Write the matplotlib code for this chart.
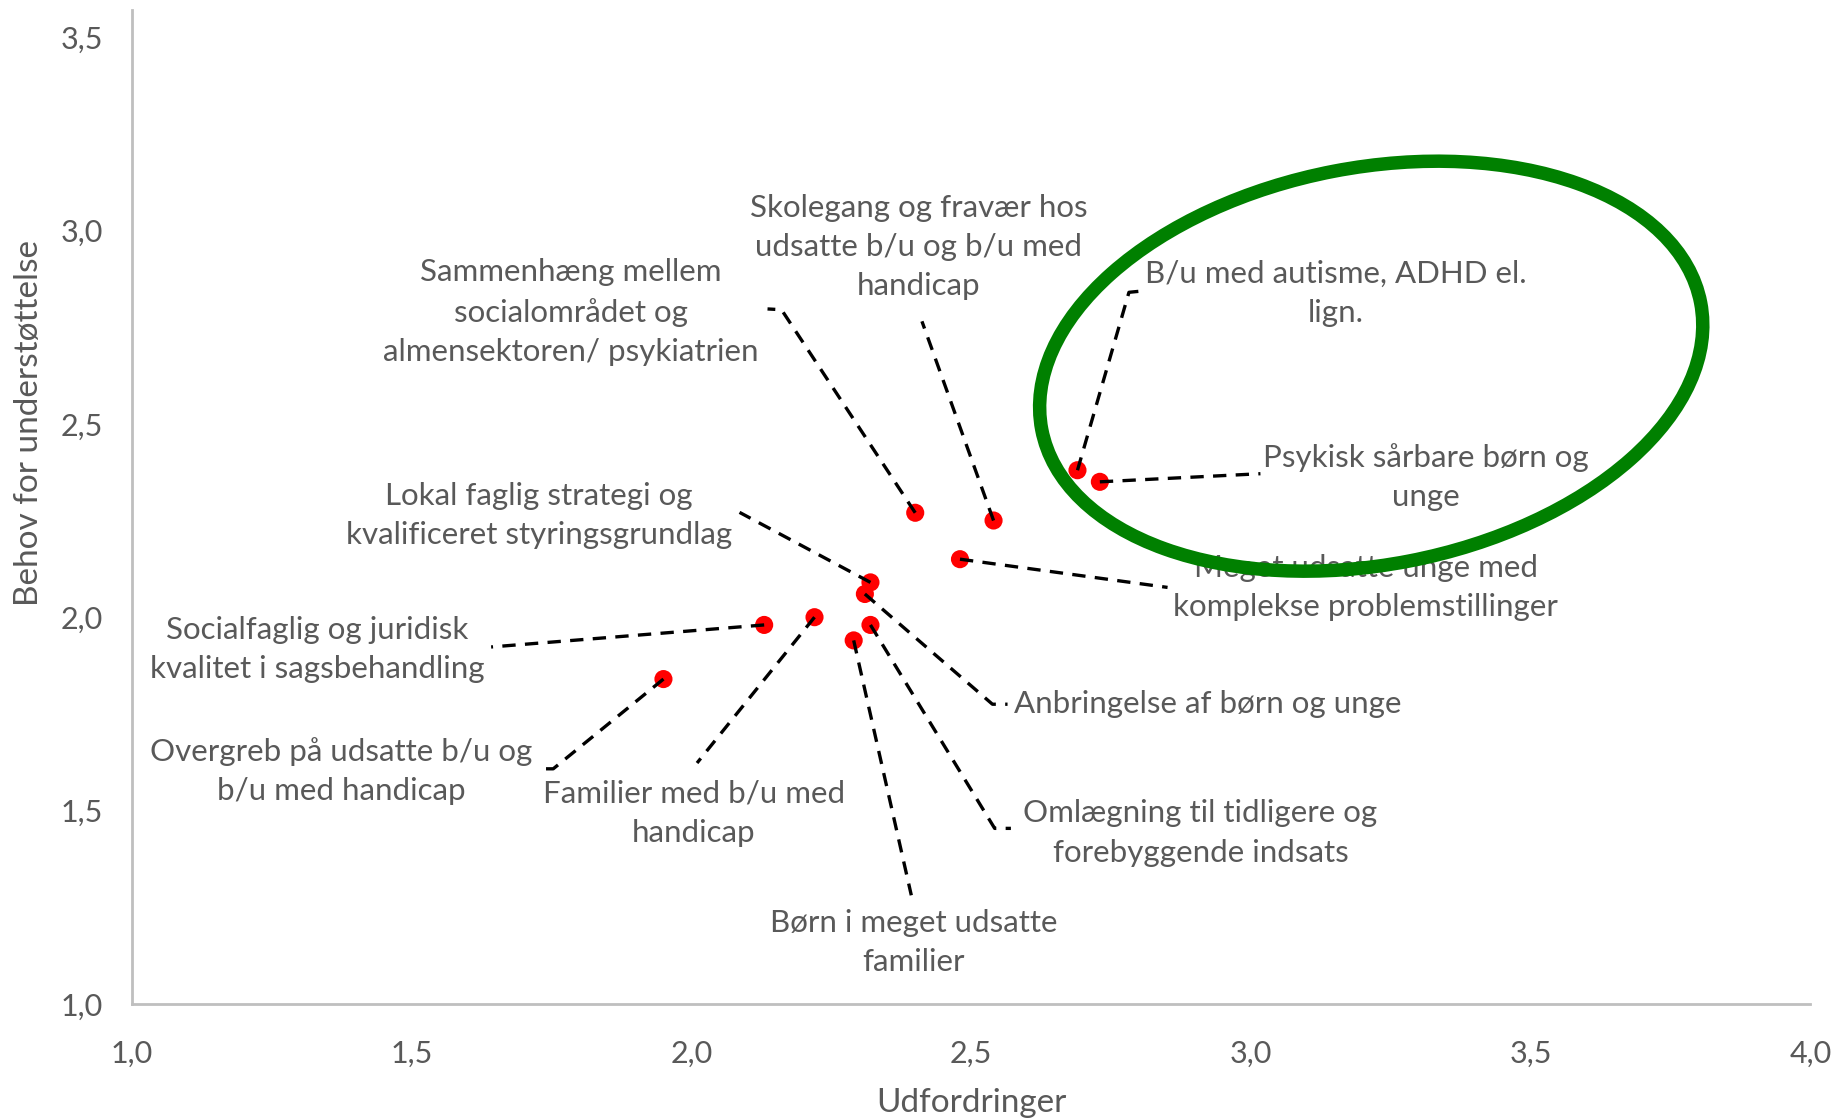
"""
Udfordringer vs. behov for understøttelse — scatter with leader-line labels.

Produces
--------
  out.png  (1835 x 1120 px)
"""
from __future__ import annotations

import matplotlib
matplotlib.use("Agg")
import matplotlib.pyplot as plt
from matplotlib.patches import Ellipse
from matplotlib.transforms import ScaledTranslation

# ─── Data ─────────────────────────────────────────────────────────────────────

themes = [
    "Overgreb på udsatte b/u og\nb/u med handicap",
    "Socialfaglig og juridisk\nkvalitet i sagsbehandling",
    "Familier med b/u med\nhandicap",
    "Børn i meget udsatte\nfamilier",
    "Omlægning til tidligere og\nforebyggende indsats",
    "Anbringelse af børn og unge",
    "Lokal faglig strategi og\nkvalificeret styringsgrundlag",
    "Sammenhæng mellem\nsocialområdet og\nalmensektoren/ psykiatrien",
    "Skolegang og fravær hos\nudsatte b/u og b/u med\nhandicap",
    "Meget udsatte unge med\nkomplekse problemstillinger",
    "B/u med autisme, ADHD el.\nlign.",
    "Psykisk sårbare børn og\nunge",
]
udfordringer = [1.95, 2.13, 2.22, 2.29, 2.32, 2.31, 2.32, 2.40, 2.54, 2.48, 2.69, 2.73]
behov        = [1.84, 1.98, 2.00, 1.94, 1.98, 2.06, 2.09, 2.27, 2.25, 2.15, 2.38, 2.35]

x_ticks = [1.0, 1.5, 2.0, 2.5, 3.0, 3.5, 4.0]
y_ticks = [1.0, 1.5, 2.0, 2.5, 3.0, 3.5]

# ─── Label layout (data coords): leader end, optional elbow end, text centre ──

leader_end = [
    (1.753, 1.608), (1.642, 1.923), (2.010, 1.623), (2.393, 1.281),
    (2.542, 1.454), (2.538, 1.775), (2.086, 2.271), (2.161, 2.795),
    (2.412, 2.765), (2.851, 2.077), (2.782, 2.840), (3.017, 2.371),
]
elbow_end = [
    (1.730, 1.608), None, None, None,
    (2.571, 1.454), (2.565, 1.775), None, (2.136, 2.797),
    None, None, (2.803, 2.843), None,
]
label_xy = [
    (1.374, 1.602), (1.331, 1.917), (2.004, 1.493), (2.397, 1.160),
    (2.910, 1.442), (2.923, 1.775), (1.728, 2.262), (1.785, 2.789),
    (2.406, 2.958), (3.205, 2.077), (3.151, 2.837), (3.312, 2.362),
]

TXT = "#595959"
AXIS = "#BFBFBF"
FONT = ["Lato", "DejaVu Sans"]

# ─── Figure ───────────────────────────────────────────────────────────────────

plt.rcParams["font.family"] = FONT
fig = plt.figure(figsize=(18.35, 11.2), dpi=100)
ax = fig.add_axes([0.0719, 0.1036, 0.9147, 0.8875])

ax.scatter(udfordringer, behov, s=170, color="#FF0000", edgecolors="none", zorder=3)

dash = (0, (4, 2.8))
for (px, py), end, elbow in zip(zip(udfordringer, behov), leader_end, elbow_end):
    xs, ys = [px, end[0]], [py, end[1]]
    if elbow is not None:
        xs.append(elbow[0])
        ys.append(elbow[1])
    ax.plot(xs, ys, color="black", lw=2.4, linestyle=dash, zorder=4)

for name, (tx, ty) in zip(themes, label_xy):
    ax.text(tx, ty, name, ha="center", va="center", fontsize=22.5,
            color=TXT, linespacing=1.48, zorder=5)

# green highlight ring, sized in inches around a data-space centre
ring = Ellipse((0, 0), 6.71, 3.97, angle=10.9, fill=False, edgecolor="#008000",
               lw=9.7, zorder=6,
               transform=fig.dpi_scale_trans + ScaledTranslation(3.215, 2.649, ax.transData))
ax.add_patch(ring)

ax.set_xlim(1.0, 4.0)
ax.set_ylim(1.0, 3.57)
ax.set_xticks(x_ticks)
ax.set_yticks(y_ticks)
ax.set_xticklabels([f"{v:.1f}".replace(".", ",") for v in x_ticks])
ax.set_yticklabels([f"{v:.1f}".replace(".", ",") for v in y_ticks])
ax.tick_params(length=0, labelsize=22, labelcolor=TXT)
ax.tick_params(axis="x", pad=26)
ax.tick_params(axis="y", pad=21)

for side in ("top", "right"):
    ax.spines[side].set_visible(False)
for side in ("left", "bottom"):
    ax.spines[side].set_color(AXIS)
    ax.spines[side].set_linewidth(2)

ax.set_xlabel("Udfordringer", fontsize=24, color=TXT, labelpad=14)
ax.set_ylabel("Behov for understøttelse", fontsize=24, color=TXT, labelpad=12)
ax.yaxis.label.set_y(0.584)

fig.savefig("out.png", dpi=100)
plt.close(fig)
